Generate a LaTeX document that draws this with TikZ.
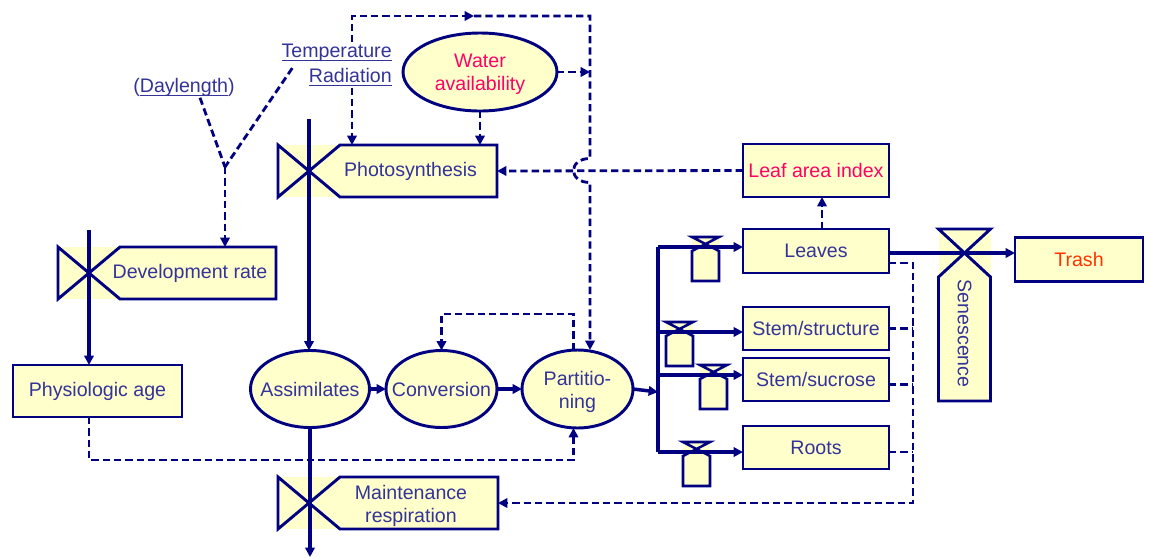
\documentclass[tikz,border=0pt]{standalone}
\usepackage{fontspec}
\setmainfont{Liberation Sans}
\usepackage{graphicx}
\usetikzlibrary{positioning, arrows.meta, shapes.geometric}
\definecolor{navyline}{HTML}{000080}
\definecolor{boxfill}{HTML}{FFFFCC}
\definecolor{labelblue}{HTML}{333399}
\definecolor{alertred}{HTML}{FF0066}
\definecolor{trashred}{HTML}{FF3300}
\newcommand{\diagfont}{\fontsize{14.7}{17.3}\selectfont}
\newsavebox{\undlbox}
\newcommand{\undl}[1]{\sbox\undlbox{#1}\rlap{\rule[-3.3pt]{\wd\undlbox}{1pt}}\usebox\undlbox}
\tikzset{
    x=0.75pt, y=-0.75pt,
    >={Triangle[length=7pt,width=7pt]},
    every node/.style={font=\diagfont, text=labelblue, inner sep=0pt, outer sep=0pt, align=center},
    box/.style={draw=navyline, fill=boxfill, line width=2.2pt, minimum width=109.5pt},
    gatebox/.style={fill=boxfill, minimum height=39pt},
    blob/.style={ellipse, draw=navyline, fill=boxfill, line width=2.2pt},
    gateline/.style={draw=navyline, line width=2.2pt},
    flow/.style={draw=navyline, line width=2.6pt, ->},
    bigflow/.style={flow, line width=3.4pt},
    flowline/.style={draw=navyline, line width=2.6pt},
    info/.style={draw=navyline, line width=2.1pt, dash pattern=on 5.5pt off 3pt, ->},
    infoline/.style={info, -},
    driver/.style={inner sep=1pt},
    redtext/.style={text=alertred},
}
\newcommand{\sidegate}[1]{%
    \fill[boxfill] (#1.south west) rectangle ([xshift=-46.5pt]#1.north west);
    \draw[gateline] (#1.south west) -- ++(-62,-52) -- ++(0,52) -- ++(62,-52) -- (#1.north east) -- (#1.south east) -- cycle;
}
\newcommand{\topgate}[1]{%
    \fill[boxfill] (#1.north west) rectangle ([yshift=36pt]#1.north east);
    \draw[gateline] (#1.north east) -- (#1.south east) -- (#1.south west) -- (#1.north west) -- ++(52,-48) -- ++(-52,0) -- cycle;
}
\newcommand{\tapgate}[2]{%
    \fill[boxfill] (#1-13.5,#2-10) rectangle (#1+13.5,#2+34);
    \draw[gateline, line width=1.9pt] (#1-13.5,#2-10) -- (#1+13.5,#2-10) -- (#1-13.5,#2+4) -- (#1-13.5,#2+34) -- (#1+13.5,#2+34) -- (#1+13.5,#2+4) -- cycle;
}

\begin{document}
\begin{tikzpicture}
\useasboundingbox (0,0) rectangle (1150,558);

% drivers
\node[driver, anchor=base east] (temp) at (393,57) {\undl{Temperature}};
\node[driver, anchor=base east] (radi) at (393,82) {\undl{Radiation}};
\node[driver, anchor=base] (daylen) at (184,92) {(\undl{Daylength})};
\node[blob, minimum width=115.5pt, minimum height=58.5pt] (water) at (480,72) {};
\node[redtext] (watertxt) at ([yshift=-2pt]water.center) {Water\\availability};

% rates
\node[gatebox, minimum width=117.75pt] (photo) at (418.5,171) {};
\node[gatebox, minimum width=117pt] (devrate) at (198,273) {};
\node[gatebox, minimum width=118.5pt] (maint) at (419,503) {};
\node[gatebox, minimum width=39pt, minimum height=93pt] (senes) at (964.5,339) {};
\sidegate{photo}
\sidegate{devrate}
\sidegate{maint}
\topgate{senes}
\node (phototxt) at ([xshift=-6pt]photo.center) {Photosynthesis};
\node (devratetxt) at ([xshift=-6pt]devrate.center) {Development rate};
\node (mainttxt) at ([xshift=-6pt,yshift=-2pt]maint.center) {Maintenance\\respiration};
\node (senestxt) at ([yshift=4pt]senes.center) {\rotatebox{-90}{Senescence}};

% states
\node[box, minimum width=126.75pt, minimum height=39pt] (physage) at (97.5,391) {Physiologic age};
\node[blob, minimum width=89.25pt, minimum height=57.75pt] (assim) at (310,389) {};
\node (assimtxt) at (assim) {Assimilates};
\node[blob, minimum width=83.25pt, minimum height=57.75pt] (conv) at (441.5,389) {};
\node (convtxt) at (conv) {Conversion};
\node[blob, minimum width=83.25pt, minimum height=58.5pt] (part) at (577.5,389) {};
\node (parttxt) at ([yshift=-2pt]part.center) {Partitio-\\ning};
\node[box, minimum height=33pt] (leaves) at (816,251) {Leaves};
\node[box, redtext, minimum height=39.75pt, above=24pt of leaves] (lai) {Leaf area index};
\node[box, minimum height=32.25pt, below=25.5pt of leaves] (struct) {Stem/structure};
\node[box, minimum height=32.25pt, below=6pt of struct] (sucr) {Stem/sucrose};
\node[box, minimum height=32.25pt, below=18.75pt of sucr] (roots) {Roots};
\node[box, minimum width=96pt, minimum height=33pt, text=trashred] (trash) at (1079,259.5) {Trash};

\tapgate{705.5}{247}
\tapgate{679.5}{332}
\tapgate{713.5}{375}
\tapgate{696.5}{452}

% material flows
\coordinate (photoin) at (309,119);
\coordinate (devin) at (89,230);
\coordinate (respout) at (310,557);
\coordinate (split) at (658,392);
\draw[flow] (photoin) -- (photoin |- assim.north);
\draw[flow] (devin) -- (devin |- physage.north);
\draw[flow] (assim.south) -- (respout);
\draw[bigflow] (assim.east) -- (conv.west);
\draw[bigflow] (conv.east) -- (part.west);
\draw[flow] (part.east) -- (split);
\draw[flowline] ([yshift=3pt]leaves.west -| split) -- ([yshift=-3.4pt]roots.west -| split);
\draw[flow] ([yshift=3pt]leaves.west -| split) -- ([yshift=3pt]leaves.west);
\draw[flow] ([yshift=-2.6pt]struct.west -| split) -- ([yshift=-2.6pt]struct.west);
\draw[flow] ([yshift=3.4pt]sucr.west -| split) -- ([yshift=3.4pt]sucr.west);
\draw[flow] ([yshift=-3.4pt]roots.west -| split) -- ([yshift=-3.4pt]roots.west);
\draw[flow] ([yshift=-1.5pt]leaves.east) -- ([yshift=-1.5pt]leaves.east -| trash.west);

% information flows
\coordinate (fork) at (225,167);
\coordinate (top) at (352,16);
\coordinate (topmid) at (474,16);
\coordinate (corner) at (590,16);
\coordinate (hop) at (corner |- lai.west);
\coordinate (drain) at (913,263);
\draw[infoline] ([xshift=12pt]daylen.south) -- (fork);
\draw[infoline] ([xshift=9pt,yshift=-4pt]temp.south west) -- (fork);
\draw[info] (fork) -- (fork |- devrate.north);
\draw[info] (top |- temp.north) -- (top) -- (topmid);
\draw[info] (topmid) -- (corner) -- ([yshift=9pt]hop) .. controls +(-22,0) and +(-22,0) .. ([yshift=-9pt]hop) -- (corner |- part.north);
\draw[info] (top |- radi.south) -- (top |- photo.north);
\draw[info] (water.east) -- (water.east -| corner);
\draw[info] (water.south) -- (water.south |- photo.north);
\draw[info] (lai.west) -- (photo.east);
\draw[info] ([xshift=4.5pt]leaves.north) -- ([xshift=4.5pt]lai.south);
\draw[info] ([xshift=-3pt]part.north) -- ++(0,-36) -| (conv.north);
\draw[info] (devin |- physage.south) -- ++(0,43) -| ([xshift=-3pt]part.south);
\draw[info] ([yshift=-9pt]leaves.east) -| (drain |- maint.east) -- (maint.east);
\draw[infoline] (struct.east) -- (struct.east -| drain);
\draw[infoline] ([yshift=-4pt]sucr.east) -- ([yshift=-4pt]sucr.east -| drain);
\draw[infoline] ([yshift=-3.4pt]roots.east) -- ([yshift=-3.4pt]roots.east -| drain);

\end{tikzpicture}
\end{document}
